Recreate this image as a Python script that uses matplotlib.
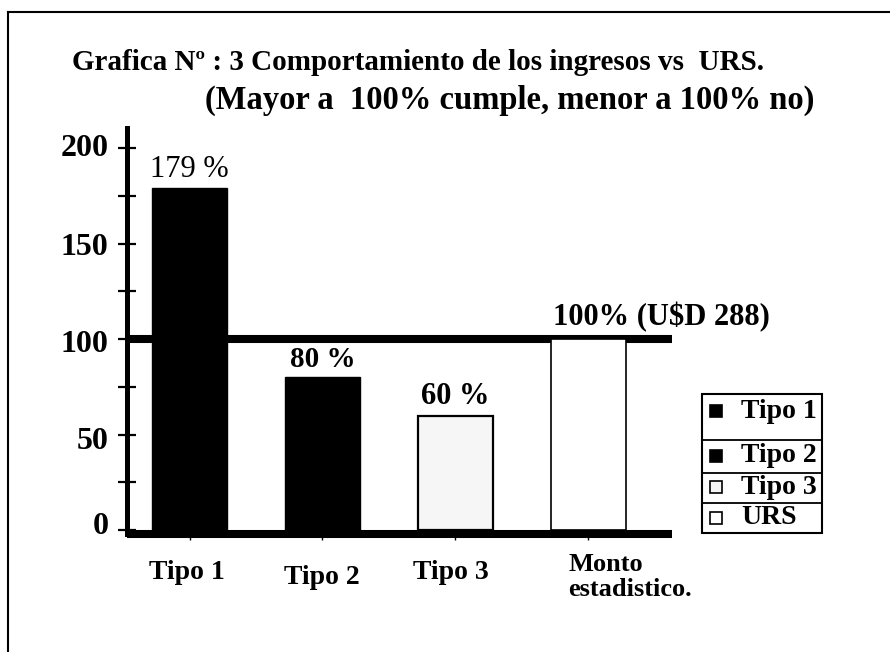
import matplotlib
matplotlib.use("Agg")
import matplotlib.pyplot as plt
from matplotlib.patches import Rectangle
from matplotlib.lines import Line2D
import matplotlib.transforms as mtransforms

# ---- data ----
categories = ["Tipo 1", "Tipo 2", "Tipo 3", "Monto\nestadistico."]
values = [179, 80, 60, 100]
bar_labels = ["179 %", "80 %", "60 %", "100% (U\\$D 288)"]
legend_labels = ["Tipo 1", "Tipo 2", "Tipo 3", "URS"]
reference_value = 100
yticks_major = [0, 50, 100, 150, 200]
yticks_minor = [25, 75, 125, 175]
title_line1 = "Grafica N\u00ba : 3 Comportamiento de los ingresos vs  URS."
title_line2 = "(Mayor a  100% cumple, menor a 100% no)"

# ---- styles ----
W, H = 890, 652
FONT = ["Liberation Serif", "DejaVu Serif"]
face_colors = ["black", "black", "#f6f6f6", "white"]
edge_lw = [1.0, 1.0, 1.6, 1.2]
label_weights = ["normal", "bold", "bold", "bold"]
label_sizes = [22, 21, 22, 22]

plt.rcParams["font.family"] = FONT
plt.rcParams["font.weight"] = "bold"

fig = plt.figure(figsize=(W / 100, H / 100), dpi=100)
fig.patch.set_facecolor("white")

def fx(px):
    return px / W

def fy(py):
    return 1 - py / H

# axes placement (pixels: left 127, right 672, top 128, bottom 534)
ax = fig.add_axes([fx(127), fy(534), fx(672) - fx(127), fy(128) - fy(534)])
ax.set_facecolor("white")

x = list(range(len(categories)))
bar_w = 0.56
ax.set_xlim(-0.47, 3.628)
ax.set_ylim(-2, 210.5)

ax.axhline(reference_value, color="black", lw=5.8, zorder=1, solid_capstyle="butt")
bars = ax.bar(x, values, width=bar_w, color=face_colors, edgecolor="black",
              linewidth=edge_lw, zorder=2)

# value labels
for i, (xi, v, lab, wt, fs) in enumerate(zip(x, values, bar_labels, label_weights, label_sizes)):
    if i == len(values) - 1:
        ax.annotate(lab, (xi - bar_w / 2, v), xytext=(1, 5), textcoords="offset points",
                    ha="left", va="bottom", fontsize=fs, fontweight=wt, zorder=3)
    else:
        ax.annotate(lab, (xi, v), xytext=(0, 3), textcoords="offset points",
                    ha="center", va="bottom", fontsize=fs, fontweight=wt, zorder=3)

# spines
for s in ["top", "right"]:
    ax.spines[s].set_visible(False)
ax.spines["left"].set_linewidth(3.6)
ax.spines["bottom"].set_linewidth(5.8)
ax.spines["bottom"].set_capstyle("butt")

# y ticks
ax.set_yticks(yticks_major)
ax.set_yticks(yticks_minor, minor=True)
ax.set_yticklabels([str(t) for t in yticks_major], fontsize=23, fontweight="bold")
ax.tick_params(axis="y", which="both", direction="inout", length=13, width=1.6, pad=7)
ydy = [7, -3, -2, 0, 3]
for t, dy in zip(ax.get_yticklabels(), ydy):
    t.set_transform(t.get_transform() + mtransforms.ScaledTranslation(0, dy / 100, fig.dpi_scale_trans))

# x ticks
ax.set_xticks(x)
ax.set_xticklabels(categories, fontsize=20, fontweight="bold")
ax.tick_params(axis="x", which="major", direction="out", length=4, width=1.0, pad=15)
xoffsets = [(-3, 0), (-1, -5), (-5, 0), (-20, 7)]
for i, (t, (dx, dy)) in enumerate(zip(ax.get_xticklabels(), xoffsets)):
    t.set_transform(t.get_transform() + mtransforms.ScaledTranslation(dx / 100, dy / 100, fig.dpi_scale_trans))
    if i == len(categories) - 1:
        t.set_ha("left")
        t.set_multialignment("left")
        t.set_linespacing(1.1)
        t.set_fontsize(19)

# title
fig.text(fx(72), fy(62), title_line1, fontsize=21, fontweight="bold", ha="left", va="center")
fig.text(fx(205), fy(100), title_line2, fontsize=23.5, fontweight="bold", ha="left", va="center")

# outer frame (top and left edges)
fig.add_artist(Line2D([fx(8), fx(890)], [fy(12), fy(12)], color="black", lw=1.5, transform=fig.transFigure))
fig.add_artist(Line2D([fx(8), fx(8)], [fy(12), fy(652)], color="black", lw=1.5, transform=fig.transFigure))

# legend (drawn as boxed rows)
lx0, lx1 = 702, 822
row_edges = [394, 440, 473, 503, 533]
fig.add_artist(Rectangle((fx(lx0), fy(row_edges[-1])), fx(lx1) - fx(lx0), fy(row_edges[0]) - fy(row_edges[-1]),
                         facecolor="white", edgecolor="black", lw=1.5, transform=fig.transFigure))
for ye in row_edges[1:-1]:
    fig.add_artist(Line2D([fx(lx0), fx(lx1)], [fy(ye), fy(ye)], color="black", lw=1.3, transform=fig.transFigure))
row_text_y = [411, 456, 487, 518]
for lab, fc, ty in zip(legend_labels, face_colors, row_text_y):
    fig.add_artist(Rectangle((fx(710), fy(ty + 6)), fx(722) - fx(710), fy(ty - 6) - fy(ty + 6),
                             facecolor=fc, edgecolor="black", lw=1.2, transform=fig.transFigure))
    fig.text(fx(741), fy(ty), lab, fontsize=20, fontweight="bold", ha="left", va="center")

fig.savefig("out.png", dpi=100, facecolor="white")
